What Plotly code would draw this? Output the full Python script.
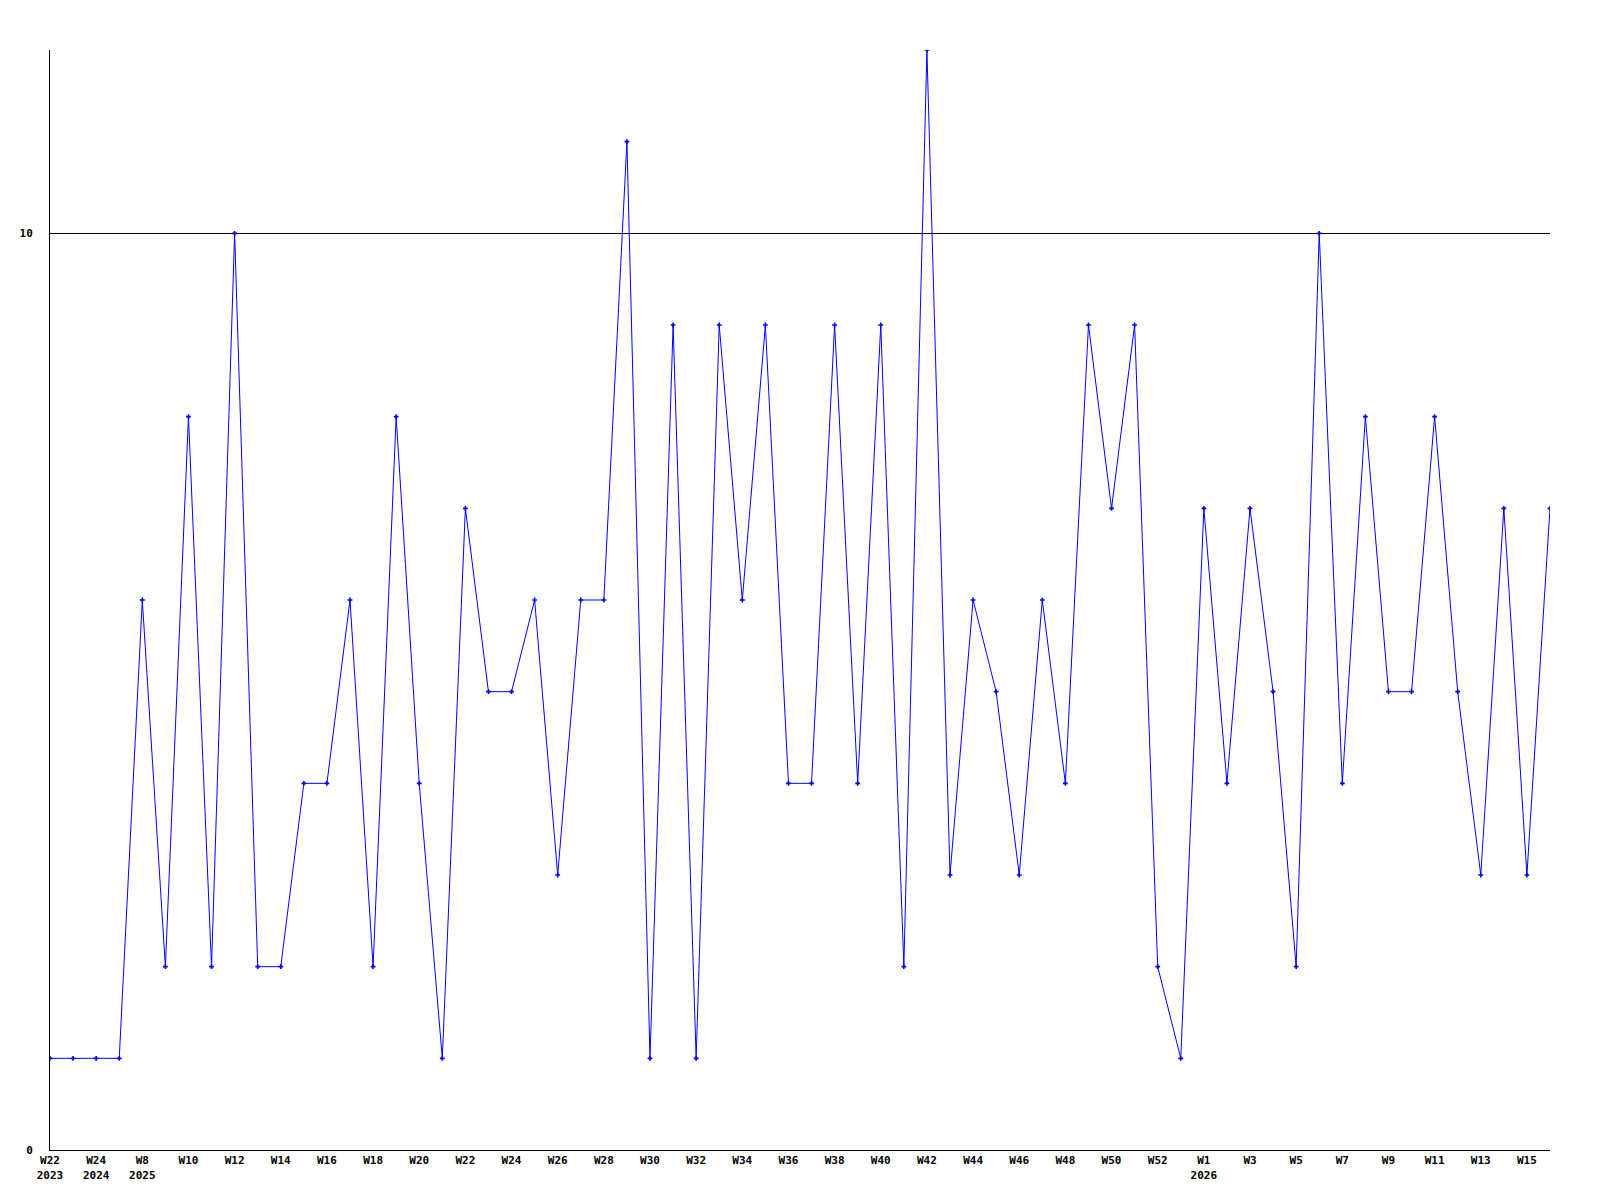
import plotly.graph_objects as go

# week categories along the x axis (one per point)
weeks = (
    ["W22 2023", "W23 2023", "W24 2024", "W7 2025"]
    + ["W%d 2025" % w for w in range(8, 53)]
    + ["W53 2025"]
    + ["W%d 2026" % w for w in range(1, 17)]
)

counts = [
    1, 1, 1, 1, 6, 2, 8, 2, 10, 2,
    2, 4, 4, 6, 2, 8, 4, 1, 7, 5,
    5, 6, 3, 6, 6, 11, 1, 9, 1, 9,
    6, 9, 4, 4, 9, 4, 9, 2, 12, 3,
    6, 5, 3, 6, 4, 9, 7, 9, 2, 1,
    7, 4, 7, 5, 2, 10, 4, 8, 5, 5,
    8, 5, 3, 7, 3, 7,
]

# labels shown under every other point; the year only where it changes
tick_labels = (
    ["W22<br>2023", "W24<br>2024", "W8<br>2025"]
    + ["W%d" % w for w in range(10, 53, 2)]
    + ["W1<br>2026"]
    + ["W%d" % w for w in range(3, 16, 2)]
)

fig = go.Figure()
fig.add_trace(
    go.Scatter(
        x=weeks,
        y=counts,
        mode="lines+markers",
        line=dict(color="#0000ff", width=1),
        marker=dict(color="#0000ff", symbol="cross", size=4),
        showlegend=False,
    )
)

fig.update_layout(
    width=1600,
    height=1200,
    margin=dict(l=42, r=58, t=42, b=58),
    paper_bgcolor="white",
    plot_bgcolor="white",
    font=dict(family="DejaVu Sans Mono", size=11, color="black"),
    xaxis=dict(
        type="category",
        tickvals=weeks[0::2],
        ticktext=["<b>%s</b>" % t.replace("<br>", "</b><br><b>") for t in tick_labels],
        tickangle=0,
        showgrid=False,
        showline=True,
        linecolor="black",
        linewidth=1,
        ticks="",
        zeroline=False,
        range=[0, len(weeks) - 1],
    ),
    yaxis=dict(
        range=[0, 12],
        tickvals=[0, 10],
        ticktext=["<b>0</b>", "<b>10</b>"],
        showgrid=True,
        gridcolor="black",
        gridwidth=1,
        showline=True,
        linecolor="black",
        linewidth=1,
        zeroline=False,
        ticks="",
        ticklabelstandoff=14,
    ),
)

fig.write_html("out.html")
